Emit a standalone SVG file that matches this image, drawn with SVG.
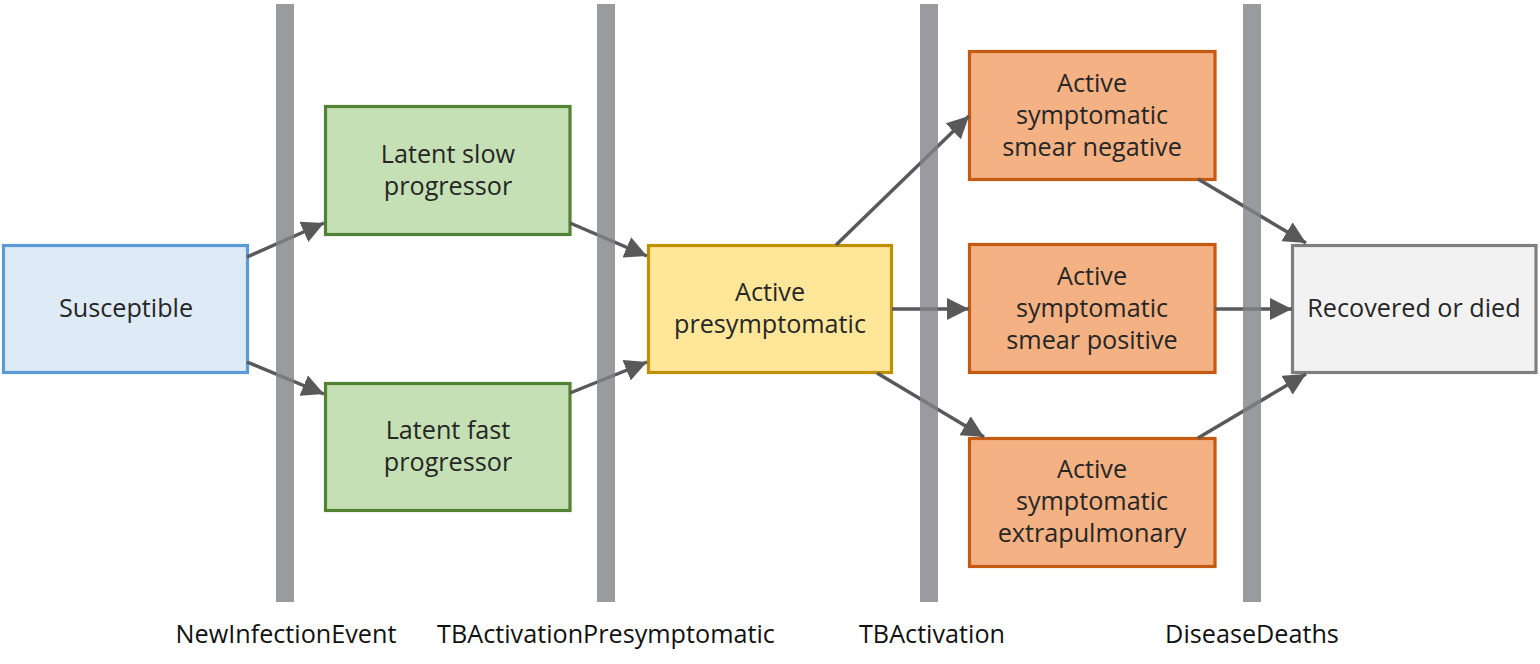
<svg xmlns="http://www.w3.org/2000/svg" width="1540" height="664" viewBox="0 0 1540 664">
<style>
  text { font-family: "Open Sans", "Noto Sans", "DejaVu Sans", sans-serif; font-size: 25.2px; text-anchor: middle; }
  .t { fill: #262626; }
  .lbl { fill: #111111; }
  .box { stroke-width: 3.2; }
  .blue { fill: #deebf7; stroke: #5b9bd5; }
  .green { fill: #c5e0b4; stroke: #548235; }
  .yellow { fill: #ffe699; stroke: #bf9000; }
  .orange { fill: #f4b183; stroke: #c55a11; }
  .gray { fill: #f2f2f2; stroke: #7f7f7f; }
  .conn { stroke: #595959; stroke-width: 3.5; fill: none; marker-end: url(#ah); }
  .bar { fill: #808287; opacity: 0.8; }
</style>
<defs>
  <marker id="ah" markerUnits="userSpaceOnUse" markerWidth="22" markerHeight="22" viewBox="0 0 20 20" refX="20" refY="10" orient="auto">
    <path d="M0,0 L20,10 L0,20 Z" fill="#595959"/>
  </marker>
</defs>
<rect width="1540" height="664" fill="#ffffff"/>

<g id="node-susceptible">
  <rect class="box blue" x="3.5" y="245.5" width="244" height="127"/>
  <text class="t" x="126" y="317">Susceptible</text>
</g>
<g id="node-latent-slow">
  <rect class="box green" x="325.5" y="106.5" width="244.5" height="128"/>
  <text class="t" x="448" y="163">Latent slow</text>
  <text class="t" x="448" y="195">progressor</text>
</g>
<g id="node-latent-fast">
  <rect class="box green" x="325.5" y="383.5" width="244.5" height="127"/>
  <text class="t" x="448" y="439">Latent fast</text>
  <text class="t" x="448" y="471">progressor</text>
</g>
<g id="node-presymptomatic">
  <rect class="box yellow" x="648.5" y="245.5" width="243" height="127"/>
  <text class="t" x="770" y="301">Active</text>
  <text class="t" x="770" y="333">presymptomatic</text>
</g>
<g id="node-smear-negative">
  <rect class="box orange" x="969.5" y="51.5" width="245.5" height="128"/>
  <text class="t" x="1092" y="92">Active</text>
  <text class="t" x="1092" y="124">symptomatic</text>
  <text class="t" x="1092" y="156">smear negative</text>
</g>
<g id="node-smear-positive">
  <rect class="box orange" x="969.5" y="244.5" width="245.5" height="128"/>
  <text class="t" x="1092" y="285">Active</text>
  <text class="t" x="1092" y="317">symptomatic</text>
  <text class="t" x="1092" y="349">smear positive</text>
</g>
<g id="node-extrapulmonary">
  <rect class="box orange" x="969.5" y="438.5" width="245.5" height="128"/>
  <text class="t" x="1092" y="478">Active</text>
  <text class="t" x="1092" y="510">symptomatic</text>
  <text class="t" x="1092" y="542">extrapulmonary</text>
</g>
<g id="node-recovered">
  <rect class="box gray" x="1292.5" y="245.5" width="243.5" height="127"/>
  <text class="t" x="1414" y="317">Recovered or died</text>
</g>

<g id="connectors">
  <line class="conn" x1="247" y1="257" x2="324" y2="223"/>
  <line class="conn" x1="247" y1="362" x2="324" y2="394"/>
  <line class="conn" x1="570" y1="223" x2="647" y2="256"/>
  <line class="conn" x1="570" y1="393" x2="647" y2="362"/>
  <line class="conn" x1="836" y1="245" x2="969" y2="116"/>
  <line class="conn" x1="892" y1="309" x2="969" y2="309"/>
  <line class="conn" x1="877" y1="373" x2="984" y2="437"/>
  <line class="conn" x1="1198" y1="179" x2="1306" y2="243"/>
  <line class="conn" x1="1215" y1="309" x2="1292" y2="309"/>
  <line class="conn" x1="1198" y1="438" x2="1306" y2="374"/>
</g>

<g id="event-new-infection">
  <rect class="bar" x="276" y="4" width="18" height="598"/>
  <text class="lbl" x="286" y="643">NewInfectionEvent</text>
</g>
<g id="event-tb-activation-presymptomatic">
  <rect class="bar" x="597" y="4" width="18" height="598"/>
  <text class="lbl" x="606" y="643">TBActivationPresymptomatic</text>
</g>
<g id="event-tb-activation">
  <rect class="bar" x="920" y="4" width="18" height="598"/>
  <text class="lbl" x="932" y="643">TBActivation</text>
</g>
<g id="event-disease-deaths">
  <rect class="bar" x="1243" y="4" width="18" height="598"/>
  <text class="lbl" x="1252" y="643">DiseaseDeaths</text>
</g>
</svg>
